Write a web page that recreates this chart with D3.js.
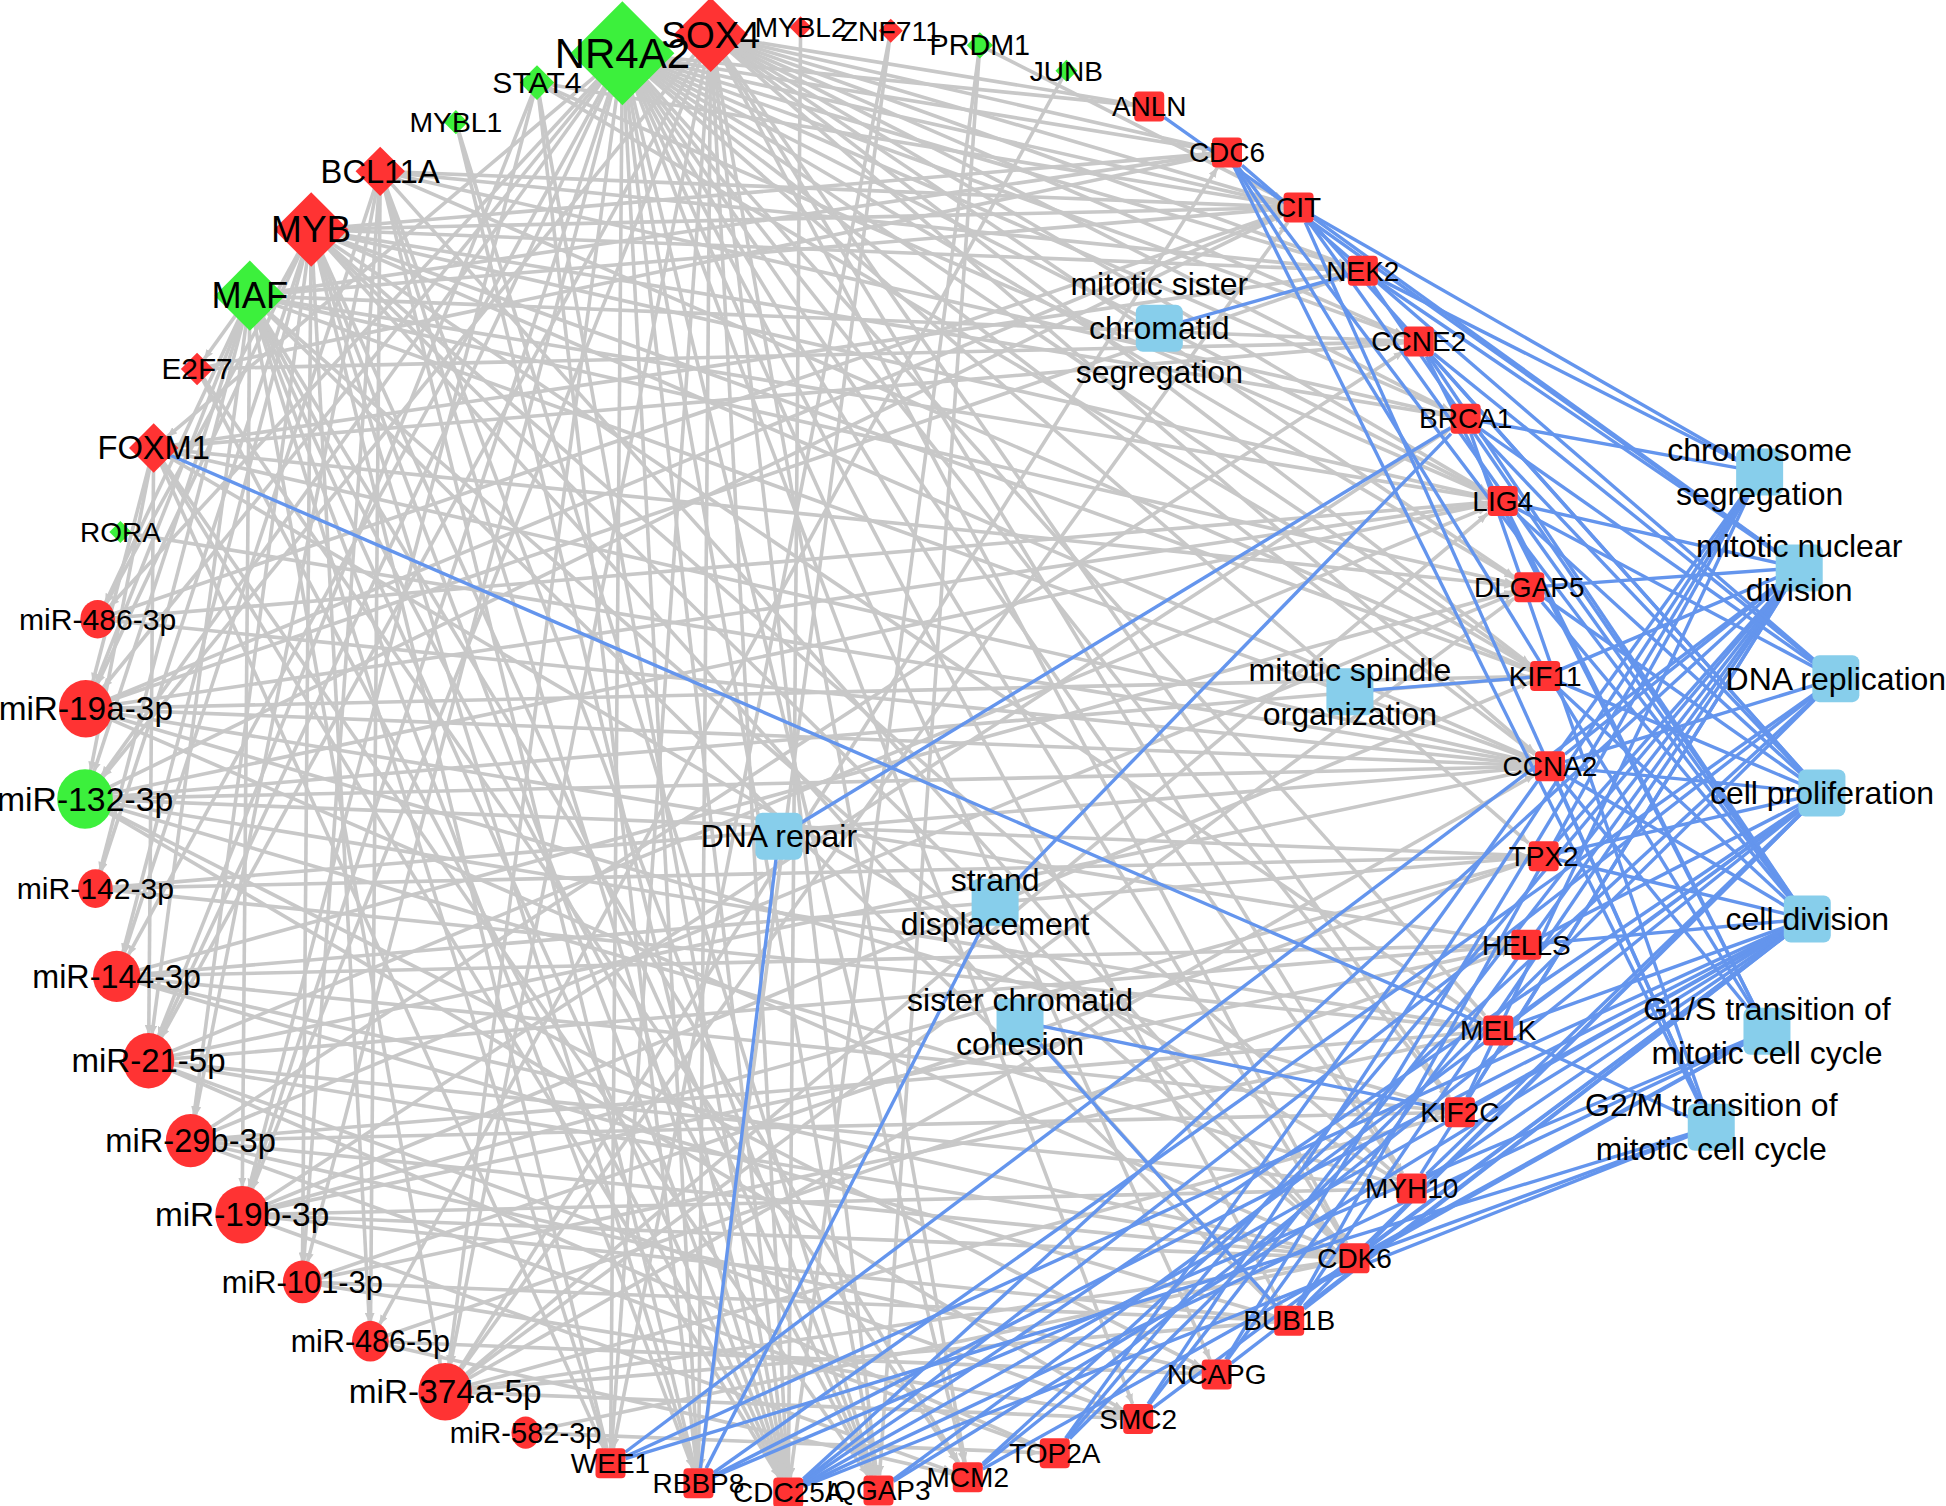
<!DOCTYPE html>
<html>
<head>
<meta charset="utf-8">
<script src="https://cdn.jsdelivr.net/npm/d3@7"></script>
<style>
    html, body { margin: 0; padding: 0; background: #fff; }
    svg { display: block; font-family: "Liberation Sans", Arial, Helvetica, sans-serif; }
</style>
</head>
<body>
<div id="network"></div>
<script>
// nodes on the outer ring, clockwise, starting at NR4A2
const ringOrder = [
    "NR4A2", "SOX4", "MYBL2", "ZNF711", "PRDM1", "JUNB",
    "ANLN", "CDC6", "CIT", "NEK2", "CCNE2", "BRCA1", "LIG4", "DLGAP5", "KIF11", "CCNA2",
    "TPX2", "HELLS", "MELK", "KIF2C", "MYH10", "CDK6", "BUB1B", "NCAPG", "SMC2", "TOP2A",
    "MCM2", "IQGAP3", "CDC25A", "RBBP8", "WEE1",
    "miR-582-3p", "miR-374a-5p", "miR-486-5p", "miR-101-3p", "miR-19b-3p", "miR-29b-3p",
    "miR-21-5p", "miR-144-3p", "miR-142-3p", "miR-132-3p", "miR-19a-3p", "miR-486-3p",
    "RORA", "FOXM1", "E2F7", "MAF", "MYB", "BCL11A", "MYBL1", "STAT4"
];

const transcriptionFactors = ["NR4A2", "SOX4", "MYBL2", "ZNF711", "PRDM1", "JUNB", "RORA",
    "FOXM1", "E2F7", "MAF", "MYB", "BCL11A", "MYBL1", "STAT4"];
const mirnas = ["miR-582-3p", "miR-374a-5p", "miR-486-5p", "miR-101-3p", "miR-19b-3p", "miR-29b-3p",
    "miR-21-5p", "miR-144-3p", "miR-142-3p", "miR-132-3p", "miR-19a-3p", "miR-486-3p"];

// network degree of each regulator
const regulatorNames = ["NR4A2", "SOX4", "MYB", "MAF", "BCL11A", "FOXM1", "STAT4", "E2F7", "PRDM1",
    "ZNF711", "MYBL1", "MYBL2", "JUNB", "RORA",
    "miR-19a-3p", "miR-132-3p", "miR-144-3p", "miR-21-5p", "miR-29b-3p", "miR-19b-3p",
    "miR-374a-5p", "miR-101-3p", "miR-486-3p", "miR-142-3p", "miR-486-5p", "miR-582-3p"];
const regulatorDegree = [40, 26, 26, 24, 14, 14, 7, 6, 3, 2, 2, 1, 1, 1,
    16, 17, 13, 15, 14, 16, 16, 9, 7, 7, 8, 4];

// down-regulated (green); everything else on the ring is up-regulated (red)
const downRegulated = ["NR4A2", "PRDM1", "JUNB", "STAT4", "MYBL1", "MAF", "RORA", "miR-132-3p"];

// GO biological process terms
const goTerms = [
    "mitotic sister chromatid segregation", "chromosome segregation", "mitotic nuclear division",
    "DNA replication", "cell proliferation", "cell division",
    "G1/S transition of mitotic cell cycle", "G2/M transition of mitotic cell cycle",
    "mitotic spindle organization", "DNA repair", "strand displacement", "sister chromatid cohesion"
];
const goLabelLines = [
    ["mitotic sister", "chromatid", "segregation"], ["chromosome", "segregation"],
    ["mitotic nuclear", "division"], ["DNA replication"], ["cell proliferation"], ["cell division"],
    ["G1/S transition of", "mitotic cell cycle"], ["G2/M transition of", "mitotic cell cycle"],
    ["mitotic spindle", "organization"], ["DNA repair"], ["strand", "displacement"],
    ["sister chromatid", "cohesion"]
];
// layout of the GO terms, in units of the ring radius from the ring centre
const goLayout = [
    [0.467, -0.589], [1.286, -0.393], [1.340, -0.262], [1.390, -0.111], [1.371, 0.045],
    [1.351, 0.217], [1.296, 0.370], [1.220, 0.501], [0.727, -0.093], [-0.052, 0.104],
    [0.243, 0.194], [0.277, 0.357]
];

// regulatory interactions (grey)
const tfTargets = {
    "NR4A2": ["miR-486-3p", "miR-19a-3p", "miR-132-3p", "miR-144-3p", "miR-21-5p",
        "miR-19b-3p", "miR-101-3p", "miR-374a-5p",
        "WEE1", "RBBP8", "CDC25A", "IQGAP3", "MCM2", "SMC2", "NCAPG", "BUB1B", "CDK6",
        "MYH10", "KIF2C", "MELK", "TPX2", "CCNA2", "KIF11", "DLGAP5", "LIG4", "BRCA1",
        "CCNE2", "NEK2", "CIT", "CDC6", "ANLN", "FOXM1"],
    "SOX4": ["ANLN", "CDC6", "CIT", "NEK2", "CCNE2", "BRCA1", "LIG4", "DLGAP5", "KIF11", "CCNA2",
        "KIF2C", "MYH10", "CDK6", "MCM2", "IQGAP3", "CDC25A",
        "RBBP8", "WEE1", "miR-19b-3p", "miR-21-5p", "miR-374a-5p", "miR-132-3p"],
    "MYB": ["CIT", "CDC6", "NEK2", "BRCA1", "LIG4", "KIF11", "CCNA2", "MELK", "MYH10",
        "CDK6", "BUB1B", "IQGAP3", "CDC25A", "RBBP8", "WEE1", "miR-486-3p", "miR-19a-3p",
        "miR-142-3p", "miR-144-3p", "miR-29b-3p", "miR-101-3p", "miR-486-5p"],
    "MAF": ["CIT", "CDC6", "CCNE2", "DLGAP5", "LIG4", "CCNA2", "CDK6", "BUB1B",
        "MCM2", "IQGAP3", "CDC25A", "RBBP8", "WEE1", "miR-486-3p", "miR-19a-3p",
        "miR-132-3p", "miR-142-3p", "miR-21-5p", "miR-19b-3p", "miR-374a-5p", "E2F7"],
    "BCL11A": ["CIT", "NEK2", "BRCA1", "KIF11", "CDK6", "IQGAP3", "CDC25A", "RBBP8",
        "miR-144-3p", "miR-29b-3p", "miR-101-3p", "miR-486-5p"],
    "FOXM1": ["DLGAP5", "NEK2", "CCNE2", "CCNA2", "MYH10", "CDC25A", "IQGAP3",
        "WEE1", "miR-19a-3p", "miR-132-3p", "miR-21-5p"],
    "STAT4": ["CIT", "LIG4", "KIF11", "CDC25A", "RBBP8", "miR-21-5p", "miR-19b-3p"],
    "E2F7": ["CDC6", "CCNE2", "MCM2", "CDC25A"],
    "PRDM1": ["CIT", "IQGAP3", "CDC25A"],
    "ZNF711": ["WEE1", "RBBP8"],
    "MYBL1": ["CDC25A", "IQGAP3"],
    "MYBL2": ["CDC25A"],
    "JUNB": ["miR-486-5p"],
    "RORA": ["CCNA2"]
};
const mirnaTargets = {
    "miR-486-3p": ["CIT", "LIG4", "CCNA2"],
    "miR-19a-3p": ["CIT", "NEK2", "LIG4", "KIF11", "CCNA2", "HELLS", "KIF2C", "CDK6"],
    "miR-132-3p": ["CCNA2", "CIT", "LIG4", "KIF11", "TPX2", "MELK", "MYH10", "NCAPG", "SMC2"],
    "miR-142-3p": ["CCNA2", "TPX2", "MELK"],
    "miR-144-3p": ["DLGAP5", "TPX2", "HELLS", "KIF2C", "CDK6", "BUB1B"],
    "miR-21-5p": ["LIG4", "CCNA2", "HELLS", "MYH10", "CDK6", "SMC2", "TOP2A"],
    "miR-29b-3p": ["CCNE2", "DLGAP5", "MELK", "KIF2C", "CDK6", "NCAPG", "TOP2A"],
    "miR-19b-3p": ["BRCA1", "KIF11", "TPX2", "HELLS", "MYH10", "CDK6", "BUB1B", "MCM2"],
    "miR-101-3p": ["TPX2", "MELK", "BUB1B", "SMC2"],
    "miR-486-5p": ["HELLS", "NCAPG", "MCM2"],
    "miR-374a-5p": ["CIT", "CDC6", "LIG4", "DLGAP5", "CCNA2", "KIF2C", "CDK6", "BUB1B", "SMC2"],
    "miR-582-3p": ["CDK6", "TOP2A"]
};

// GO annotation (blue)
const goMembers = {
    "mitotic sister chromatid segregation": ["NEK2"],
    "chromosome segregation": ["CIT", "NEK2", "BRCA1", "KIF2C", "BUB1B", "NCAPG", "SMC2", "TOP2A"],
    "mitotic nuclear division": ["ANLN", "CIT", "NEK2", "LIG4", "DLGAP5", "KIF11", "CCNA2", "TPX2",
        "KIF2C", "MYH10", "BUB1B", "NCAPG", "SMC2", "TOP2A", "CDC25A", "WEE1"],
    "DNA replication": ["CDC6", "CCNE2", "BRCA1", "LIG4", "CCNA2", "TOP2A", "MCM2", "CDC25A", "RBBP8"],
    "cell proliferation": ["CIT", "CCNE2", "BRCA1", "LIG4", "DLGAP5", "KIF11", "CCNA2", "TPX2",
        "HELLS", "MELK", "MYH10", "CDK6", "BUB1B", "MCM2", "IQGAP3", "CDC25A"],
    "cell division": ["CDC6", "CIT", "NEK2", "CCNE2", "DLGAP5", "KIF11", "CCNA2", "TPX2", "HELLS",
        "MELK", "KIF2C", "MYH10", "CDK6", "BUB1B", "NCAPG", "SMC2", "IQGAP3", "CDC25A", "RBBP8", "WEE1"],
    "G1/S transition of mitotic cell cycle": ["CDC6", "CCNE2", "LIG4", "CCNA2", "CDK6", "MCM2",
        "CDC25A", "RBBP8"],
    "G2/M transition of mitotic cell cycle": ["CDC6", "CIT", "BRCA1", "CCNA2", "MELK", "CDK6",
        "CDC25A", "WEE1"],
    "mitotic spindle organization": ["KIF11"],
    "DNA repair": ["BRCA1", "RBBP8"],
    "strand displacement": ["BRCA1", "RBBP8"],
    "sister chromatid cohesion": ["KIF2C", "BUB1B"]
};
// the single TF -> gene link drawn in blue
const blueRegulation = [["FOXM1", "MELK"]];

// ---------------------------------------------------------------
const width = 1946, height = 1506;
const cx = 817, cy = 760, radius = 733;
const red = "#ff3333", green = "#3cf03c", goFill = "#87ceeb";
const grey = "#c8c8c8", blue = "#6495ed";

const x = d3.scaleLinear().domain([-1, 1]).range([cx - radius, cx + radius]);
const y = d3.scaleLinear().domain([-1, 1]).range([cy - radius, cy + radius]);
const angle = d3.scaleLinear().domain([0, ringOrder.length]).range([-105.4, 254.6]);
var size = d3.scaleLinear().domain([1, 40]).range([22, 104]);
var fontSize = d3.scaleLinear().domain([22, 104]).range([28, 42]);

var greyEdges = [];
Object.entries(tfTargets).forEach(function ([s, ts]) {
    ts.forEach(function (t) { greyEdges.push({ source: s, target: t }); });
});
Object.entries(mirnaTargets).forEach(function ([s, ts]) {
    ts.forEach(function (t) { greyEdges.push({ source: s, target: t }); });
});

var nodes = new Map();
ringOrder.forEach(function (name, i) {
    var a = angle(i) * Math.PI / 180;
    var kind = transcriptionFactors.includes(name) ? "tf" : (mirnas.includes(name) ? "mirna" : "gene");
    var n = {
        name: name, kind: kind,
        x: x(Math.cos(a)), y: y(Math.sin(a)),
        color: downRegulated.includes(name) ? green : red
    };
    n.size = kind === "gene" ? 30 : size(regulatorDegree[regulatorNames.indexOf(name)]);
    n.font = kind === "gene" ? 28 : fontSize(n.size);
    n.lines = [name];
    nodes.set(name, n);
});
goTerms.forEach(function (t, i) {
    nodes.set(t, {
        name: t, kind: "go", x: x(goLayout[i][0]), y: y(goLayout[i][1]),
        color: goFill, size: 47, font: 32, lines: goLabelLines[i]
    });
});

var blueEdges = [];
Object.entries(goMembers).forEach(function ([term, gs]) {
    gs.forEach(function (g) { blueEdges.push({ source: term, target: g }); });
});

// distance from node centre to its outline along direction (ux, uy)
function reach(n, ux, uy) {
    var h = n.size / 2;
    if (n.kind === "tf") return h / (Math.abs(ux) + Math.abs(uy));
    if (n.kind === "mirna") return h;
    return h / Math.max(Math.abs(ux), Math.abs(uy));
}
function endPoint(s, t) {
    var dx = t.x - s.x, dy = t.y - s.y, L = Math.hypot(dx, dy);
    var r = reach(t, dx / L, dy / L);
    return [t.x - dx / L * r, t.y - dy / L * r];
}

d3.select('#network').selectAll("svg").remove();
var svg = d3.select('#network').append("svg")
    .attr("width", width)
    .attr("height", height);

svg.append("defs").append("marker")
    .attr("id", "arrow-grey")
    .attr("viewBox", "0 0 10 8")
    .attr("refX", 10).attr("refY", 4)
    .attr("markerWidth", 10).attr("markerHeight", 8)
    .attr("markerUnits", "userSpaceOnUse")
    .attr("orient", "auto")
    .append("path")
    .attr("d", "M0,0 L10,4 L0,8 Z")
    .attr("fill", grey);

function drawEdges(group, list, colour, w, marker) {
    var sel = group.selectAll("line")
        .data(list)
        .enter().append("line")
        .attr("x1", function (d) { return nodes.get(d.source).x; })
        .attr("y1", function (d) { return nodes.get(d.source).y; })
        .attr("x2", function (d) { return endPoint(nodes.get(d.source), nodes.get(d.target))[0]; })
        .attr("y2", function (d) { return endPoint(nodes.get(d.source), nodes.get(d.target))[1]; })
        .attr("stroke", colour)
        .attr("stroke-width", w);
    if (marker) sel.attr("marker-end", "url(#" + marker + ")");
}

drawEdges(svg.append("g"), greyEdges, grey, 3.6, "arrow-grey");
drawEdges(svg.append("g"), blueRegulation.map(function (d) { return { source: d[0], target: d[1] }; }),
    blue, 3.4, null);
drawEdges(svg.append("g"), blueEdges, blue, 3.4, null);

var all = Array.from(nodes.values());
var nodeG = svg.append("g").selectAll("g")
    .data(all)
    .enter().append("g")
    .attr("transform", function (d) { return "translate(" + d.x + "," + d.y + ")"; });

nodeG.filter(function (d) { return d.kind === "tf"; })
    .append("path")
    .attr("d", function (d) {
        var h = d.size / 2;
        return "M0," + (-h) + "L" + h + ",0L0," + h + "L" + (-h) + ",0Z";
    })
    .attr("fill", function (d) { return d.color; });

nodeG.filter(function (d) { return d.kind === "mirna"; })
    .append("ellipse")
    .attr("rx", function (d) { return d.size / 2; })
    .attr("ry", function (d) { return d.size / 2 + 2; })
    .attr("fill", function (d) { return d.color; });

nodeG.filter(function (d) { return d.kind === "gene" || d.kind === "go"; })
    .append("rect")
    .attr("x", function (d) { return -d.size / 2; })
    .attr("y", function (d) { return -d.size / 2; })
    .attr("width", function (d) { return d.size; })
    .attr("height", function (d) { return d.size; })
    .attr("rx", function (d) { return d.kind === "go" ? 7 : 4; })
    .attr("fill", function (d) { return d.color; });

var labelG = svg.append("g").selectAll("text")
    .data(all)
    .enter().append("text")
    .attr("x", function (d) { return d.x; })
    .attr("y", function (d) { return d.y; })
    .attr("text-anchor", "middle")
    .attr("font-size", function (d) { return d.font; })
    .attr("fill", "#000");

labelG.selectAll("tspan")
    .data(function (d) {
        return d.lines.map(function (l, i) { return { text: l, i: i, n: d.lines.length, x: d.x, y: d.y }; });
    })
    .enter().append("tspan")
    .attr("x", function (d) { return d.x; })
    .attr("y", function (d) { return d.y + (d.i - (d.n - 1) / 2) * 44; })
    .attr("dy", "0.35em")
    .text(function (d) { return d.text; });
</script>
</body>
</html>
